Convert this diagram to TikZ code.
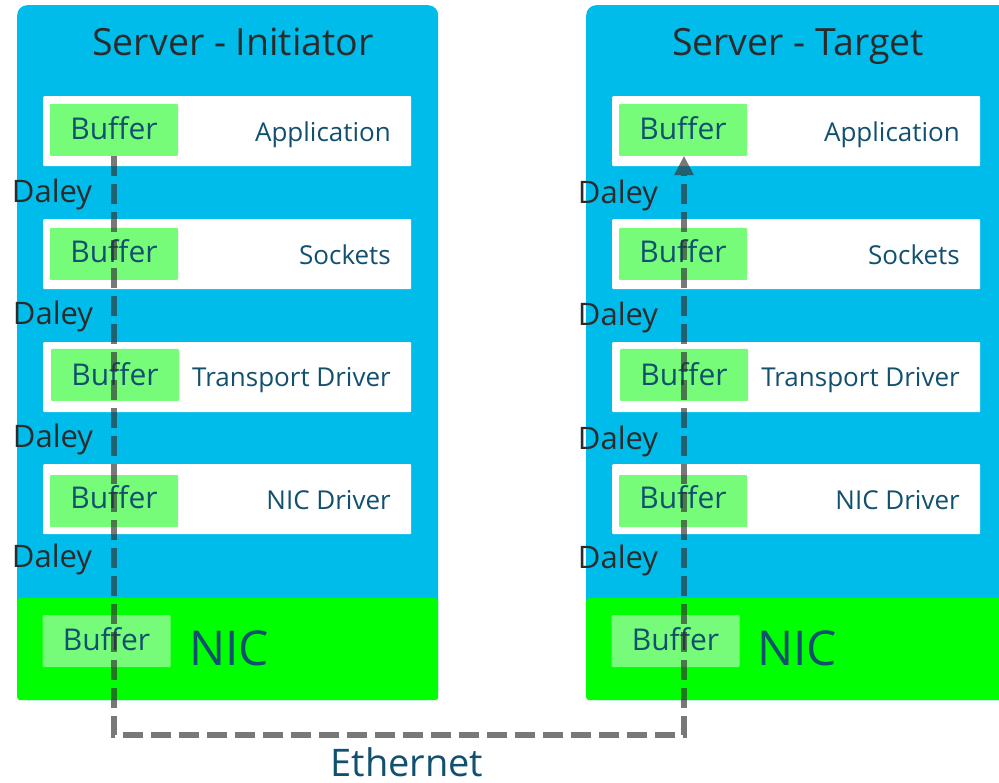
\documentclass[tikz,border=0pt]{standalone}
\usepackage{fontspec}
\setmainfont{Open Sans}
\usetikzlibrary{arrows.meta}
\definecolor{srvblue}{HTML}{00BCEB}
\definecolor{nicgreen}{HTML}{00FF00}
\definecolor{bufgreen}{HTML}{77FC79}
\definecolor{labelblue}{HTML}{12506F}
\definecolor{darktext}{HTML}{2B2B2B}
\definecolor{linegray}{HTML}{303030}
\tikzset{
  capc/.style={inner sep=0pt, text depth=0pt},
  serverbox/.style={fill=srvblue, rounded corners=10pt, anchor=north west, inner sep=0pt},
  nicbox/.style={fill=nicgreen, rounded corners=3pt, anchor=north west, inner sep=0pt, minimum height=102pt},
  layerbox/.style={fill=white, rounded corners=1pt, anchor=north west, inner sep=0pt, minimum width=368pt, minimum height=70pt},
  bufbox/.style={fill=bufgreen, rounded corners=1pt, inner sep=0pt, minimum width=128pt, minimum height=52pt},
  buftext/.style={capc, text height=21.4pt, text=labelblue, font=\fontsize{30}{34}\selectfont},
  layertext/.style={capc, text height=18.6pt, text=labelblue, anchor=east, font=\fontsize{26}{30}\selectfont},
  titletext/.style={capc, text height=26.8pt, text=darktext, font=\fontsize{37.5}{40}\selectfont},
  delaytext/.style={capc, text height=22.1pt, text=darktext, font=\fontsize{31}{35}\selectfont},
  nictext/.style={capc, text height=34.3pt, text=labelblue, anchor=west, font=\fontsize{48}{52}\selectfont},
  pathline/.style={draw=linegray, opacity=0.65, line width=6pt, dash pattern=on 20pt off 8pt},
}
\begin{document}
\begin{tikzpicture}[x=1pt,y=-1pt]
\useasboundingbox (0,0) rectangle (999,783);
\clip (0,0) rectangle (999,783);
% servers
\node[serverbox, minimum width=421pt, minimum height=695pt] (srvL) at (17,5) {};
\node[serverbox, minimum width=430pt, minimum height=695pt] (srvR) at (586,5) {};
\node[nicbox, minimum width=421pt] (nicL) at (17,598) {};
\node[nicbox, minimum width=430pt] (nicR) at (586,598) {};
\node[titletext] (titleL) at (233,42.5) {Server - Initiator};
\node[titletext] (titleR) at (798,42.5) {Server - Target};
% left layers
\node[layerbox] (l1) at (43,96) {};
\node[layerbox] (l2) at (43,219) {};
\node[layerbox] (l3) at (43,342) {};
\node[layerbox] (l4) at (43,464) {};
\node[bufbox] (bl1) at (114,130) {};
\node[bufbox] (bl2) at (114,254) {};
\node[bufbox] (bl3) at (115,375) {};
\node[bufbox] (bl4) at (114,501) {};
\node[buftext] (bl1t) at (114,128.5) {Buffer};
\node[buftext] (bl2t) at (114,251.5) {Buffer};
\node[buftext] (bl3t) at (115,374.5) {Buffer};
\node[buftext] (bl4t) at (114,498) {Buffer};
\node[layertext] (tl1) at (391,132) {Application};
\node[layertext] (tl2) at (391,255) {Sockets};
\node[layertext] (tl3) at (391,377) {Transport Driver};
\node[layertext] (tl4) at (391,500) {NIC Driver};
% right layers
\node[layerbox] (r1) at (612,96) {};
\node[layerbox] (r2) at (612,219) {};
\node[layerbox] (r3) at (612,342) {};
\node[layerbox] (r4) at (612,464) {};
\node[bufbox] (br1) at (683,130) {};
\node[bufbox] (br2) at (683,254) {};
\node[bufbox] (br3) at (684,375) {};
\node[bufbox] (br4) at (683,501) {};
\node[buftext] (br1t) at (683,128.5) {Buffer};
\node[buftext] (br2t) at (683,251.5) {Buffer};
\node[buftext] (br3t) at (684,374.5) {Buffer};
\node[buftext] (br4t) at (683,498) {Buffer};
\node[layertext] (tr1) at (960,132) {Application};
\node[layertext] (tr2) at (960,255) {Sockets};
\node[layertext] (tr3) at (960,377) {Transport Driver};
\node[layertext] (tr4) at (960,500) {NIC Driver};
% NIC
\node[bufbox] (bnL) at (106.5,641) {};
\node[bufbox] (bnR) at (675.5,641) {};
\node[buftext] (bnLt) at (106.5,640) {Buffer};
\node[buftext] (bnRt) at (675.5,640) {Buffer};
\node[nictext] (nicTL) at (189,648.5) {NIC};
\node[nictext] (nicTR) at (757,648.5) {NIC};
% delays
\node[delaytext] (dl1) at (52,191) {Daley};
\node[delaytext] (dl2) at (53,313) {Daley};
\node[delaytext] (dl3) at (53,436) {Daley};
\node[delaytext] (dl4) at (52,556) {Daley};
\node[delaytext] (dr1) at (618,192) {Daley};
\node[delaytext] (dr2) at (618,314) {Daley};
\node[delaytext] (dr3) at (618,438) {Daley};
\node[delaytext] (dr4) at (618,557) {Daley};
% ethernet path
\coordinate (cL) at (114,735);
\coordinate (cR) at (684,735);
\draw[pathline, -{Triangle[width=20pt,length=19pt,line width=0pt]}] (bl1.south -| cL) -- (cL) -- (cR) -- (br1.south -| cR);
\node[capc, text height=27.1pt, text=labelblue, font=\fontsize{38}{40}\selectfont] (eth) at (407,763) {Ethernet};
\end{tikzpicture}
\end{document}
